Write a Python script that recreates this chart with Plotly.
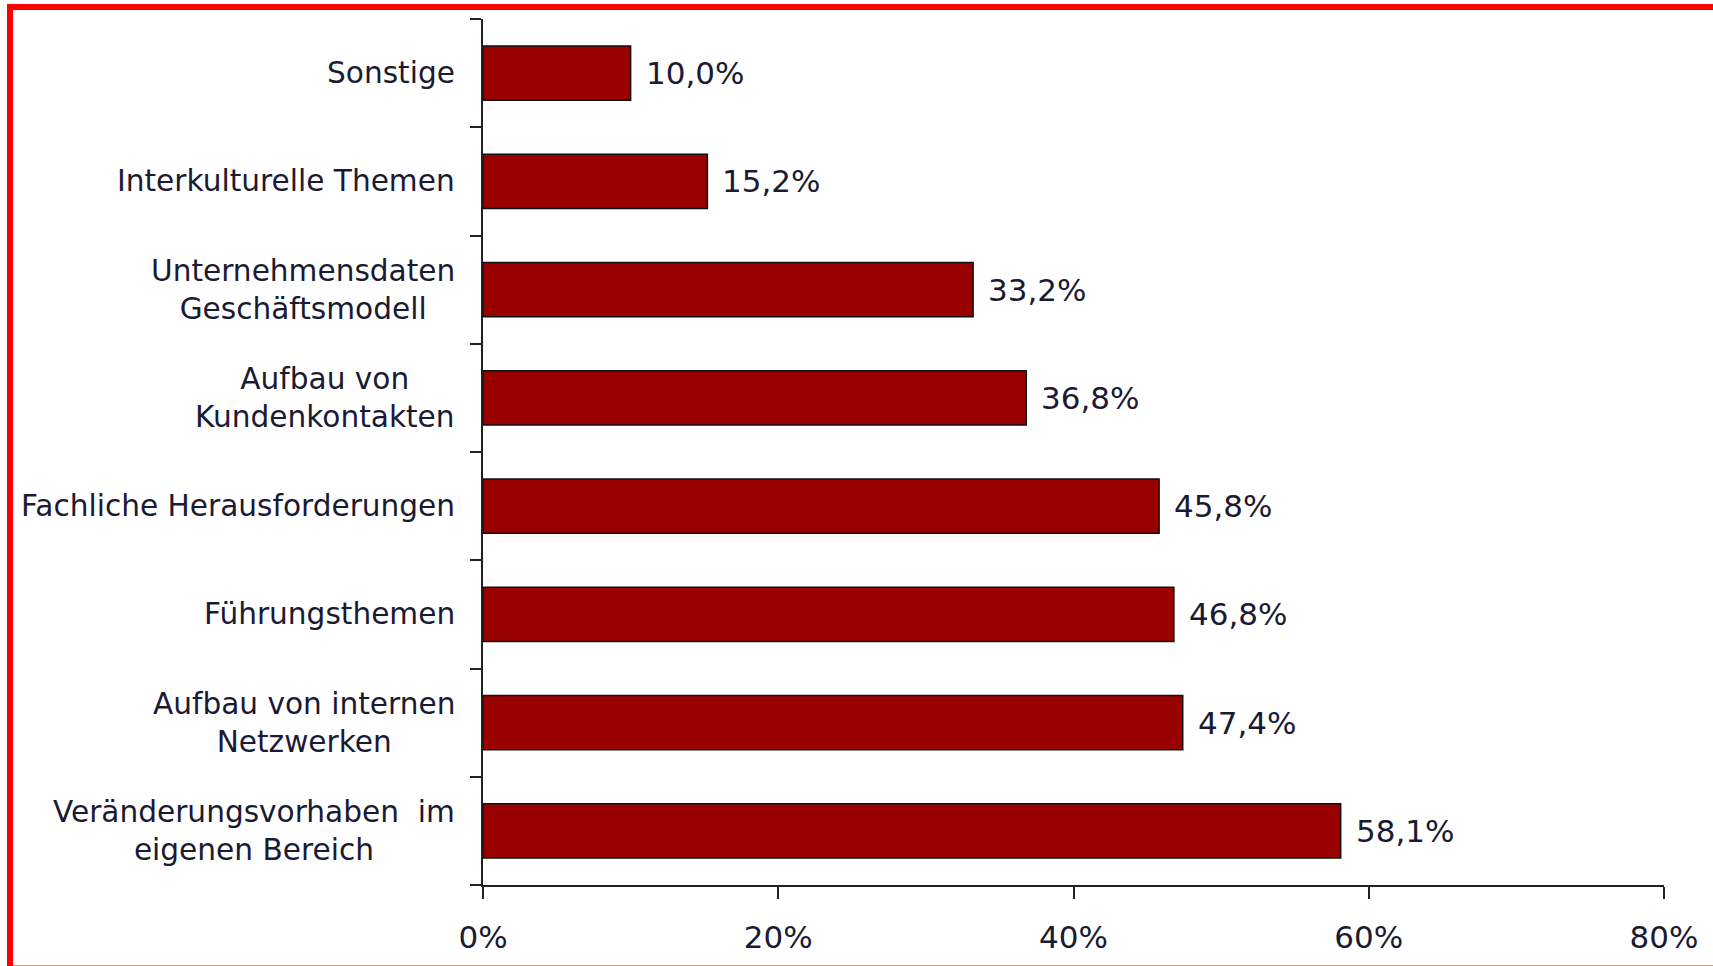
import plotly.graph_objects as go

# ---- data (top to bottom) ----
categories = [
    "Sonstige",
    "Interkulturelle Themen",
    "Unternehmensdaten<br>Geschäftsmodell",
    "Aufbau von<br>Kundenkontakten",
    "Fachliche Herausforderungen",
    "Führungsthemen",
    "Aufbau von internen<br>Netzwerken",
    "Veränderungsvorhaben&nbsp; im<br>eigenen Bereich",
]
values = [10.0, 15.2, 33.2, 36.8, 45.8, 46.8, 47.4, 58.1]
x_tickvals = [0, 20, 40, 60, 80]
x_ticktext = ["0%", "20%", "40%", "60%", "80%"]

# ---- layout constants ----
W, H = 1713, 966
ML, MR, MT, MB = 483, 49, 19, 81
PW, PH = W - ML - MR, H - MT - MB
FONT = "DejaVu Sans"
TXT = "#1a1a33"
FS_CAT = 29.6
FS_NUM = 31

def px_x(p):
    return (p - ML) / PW

def px_y(p):
    return (H - MB - p) / PH

ids = list(range(len(categories)))

fig = go.Figure()
fig.add_trace(go.Bar(
    y=ids, x=values, orientation="h", width=0.5,
    marker=dict(color="#990000", line=dict(color="#111111", width=1.5)),
    hoverinfo="skip",
))

annotations = []
for i, (c, v) in enumerate(zip(categories, values)):
    annotations.append(dict(
        x=0, xref="paper", y=i, yref="y", text=c, showarrow=False,
        xanchor="right", yanchor="middle", align="center", xshift=-26,
        font=dict(family=FONT, size=FS_CAT, color=TXT),
    ))
    annotations.append(dict(
        x=v, xref="x", y=i, yref="y",
        text=f"{v:.1f}".replace(".", ",") + "%", showarrow=False,
        xanchor="left", yanchor="middle", xshift=13,
        font=dict(family=FONT, size=FS_NUM, color=TXT),
    ))

fig.update_layout(
    width=W, height=H,
    margin=dict(l=ML, r=MR, t=MT, b=MB, pad=0, autoexpand=False),
    paper_bgcolor="white", plot_bgcolor="white",
    showlegend=False,
    bargap=0.5,
    annotations=annotations,
    xaxis=dict(
        range=[0, 80], tickvals=x_tickvals, ticktext=x_ticktext,
        showgrid=False, zeroline=False, showline=True, linecolor="#222222", linewidth=2,
        ticks="outside", ticklen=12, tickwidth=2, tickcolor="#222222",
        tickfont=dict(family=FONT, size=FS_NUM, color=TXT),
        ticklabelstandoff=12, fixedrange=True, automargin=False,
    ),
    yaxis=dict(
        type="linear", range=[len(categories) - 0.5, -0.5],
        tickvals=[i - 0.5 for i in range(len(categories) + 1)],
        showticklabels=False,
        showgrid=False, zeroline=False, showline=True, linecolor="#222222", linewidth=2,
        ticks="outside", ticklen=11, tickwidth=2, tickcolor="#222222",
        fixedrange=True, automargin=False,
    ),
    shapes=[dict(
        type="rect", xref="paper", yref="paper",
        x0=px_x(10), x1=px_x(1725), y0=px_y(7), y1=px_y(968.5),
        line=dict(color="#ff0000", width=6), fillcolor="rgba(0,0,0,0)",
        layer="above",
    )],
)

fig.write_html("out.html", config={"displayModeBar": False})
